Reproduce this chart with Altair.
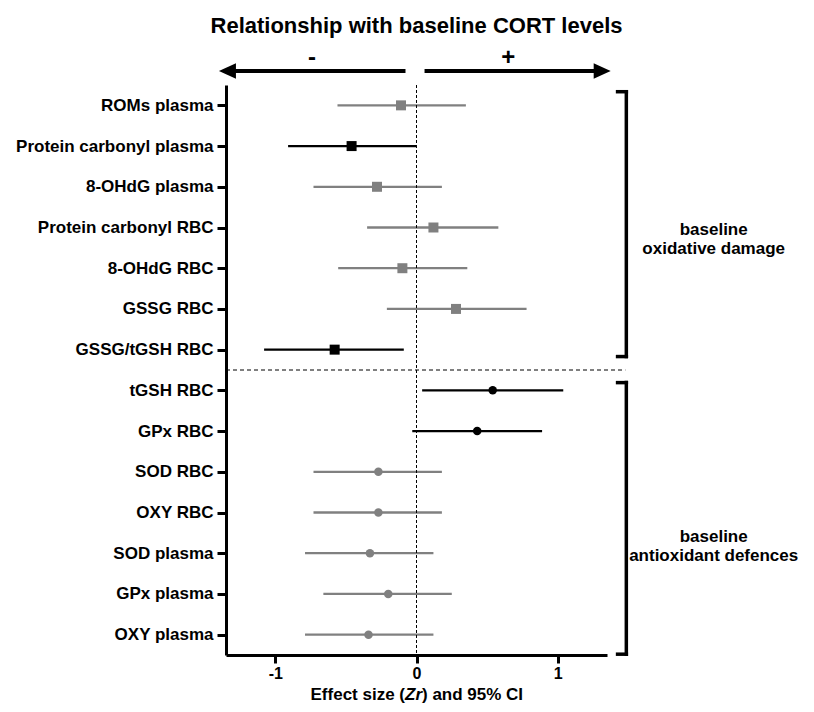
import altair as alt
import pandas as pd

# ---- data ----
names = [
    "ROMs plasma", "Protein carbonyl plasma", "8-OHdG plasma", "Protein carbonyl RBC",
    "8-OHdG RBC", "GSSG RBC", "GSSG/tGSH RBC",
    "tGSH RBC", "GPx RBC", "SOD RBC", "OXY RBC", "SOD plasma", "GPx plasma", "OXY plasma",
]
estimate = [-0.11, -0.46, -0.28, 0.12, -0.10, 0.28, -0.58, 0.54, 0.43, -0.27, -0.27, -0.33, -0.20, -0.34]
ci_low = [-0.56, -0.91, -0.73, -0.35, -0.555, -0.21, -1.08, 0.04, -0.03, -0.73, -0.73, -0.79, -0.66, -0.79]
ci_high = [0.35, 0.00, 0.18, 0.58, 0.36, 0.78, -0.09, 1.04, 0.89, 0.18, 0.18, 0.12, 0.25, 0.12]
significant = [False, True, False, False, False, False, True, True, True, False, False, False, False, False]
group = ["damage"] * 7 + ["defence"] * 7

x_ticks = [-1, 0, 1]
x_domain = [-1.35, 1.35]

group_labels = ["baseline\noxidative damage", "baseline\nantioxidant defences"]
group_label_y = [4.06, 11.60]
group_label_x = [2.106, 2.106]
bracket_top = [0.665, 7.81]
bracket_bottom = [7.17, 14.48]
bracket_x = 1.487
bracket_serif_x = 1.425
separator_y = 7.5
separator_end_x = 1.48

arrow_line_start = [-1.33, 0.057]
arrow_line_end = [-0.078, 1.31]
arrow_tip = [-1.40, 1.376]
sign_text = ["-", "+"]
sign_x = [-0.74, 0.65]

FONT = "Liberation Sans"

rows = list(range(1, len(names) + 1))
df = pd.DataFrame({
    "row": rows, "name": names, "est": estimate, "lo": ci_low, "hi": ci_high,
    "sig": ["sig" if s else "ns" for s in significant], "group": group,
})

x_scale = alt.Scale(domain=x_domain, nice=False, zero=False)
y_scale = alt.Scale(domain=[0.5, len(names) + 0.5], reverse=True, nice=False, zero=False)

label_expr = "[" + ",".join("'" + n + "'" for n in names) + "][datum.value - 1]"

x_axis = alt.Axis(
    values=x_ticks, labelExpr="'' + datum.value", title=None, grid=False,
    domainWidth=3, domainColor="black", tickWidth=3, tickSize=8, tickColor="black",
    labelFontSize=16, labelFont=FONT, labelFontWeight="bold", labelColor="black", labelPadding=2,
)
y_axis = alt.Axis(
    values=rows, labelExpr=label_expr, title=None, grid=False,
    domainWidth=3, domainColor="black", tickWidth=3, tickSize=9, tickColor="black",
    labelFontSize=17, labelFont=FONT, labelFontWeight="bold", labelColor="black", labelPadding=4,
    labelLimit=400,
)

color = alt.Color("sig:N", scale=alt.Scale(domain=["sig", "ns"], range=["#000000", "#808080"]), legend=None)

base = alt.Chart(df)

ci_rules = base.mark_rule(strokeWidth=2.3).encode(
    x=alt.X("lo:Q", scale=x_scale, axis=x_axis),
    x2="hi:Q",
    y=alt.Y("row:Q", scale=y_scale, axis=y_axis),
    color=color,
)

points = base.mark_point(filled=True, opacity=1, strokeWidth=0).encode(
    x=alt.X("est:Q", scale=x_scale),
    y=alt.Y("row:Q", scale=y_scale),
    color=color,
    shape=alt.Shape("group:N", scale=alt.Scale(domain=["damage", "defence"], range=["square", "circle"]), legend=None),
    size=alt.Size("group:N", scale=alt.Scale(domain=["damage", "defence"], range=[100, 72]), legend=None),
)

zero_line = alt.Chart(pd.DataFrame({"x": [0]})).mark_rule(
    strokeDash=[3, 2], strokeWidth=1, color="black"
).encode(x=alt.X("x:Q", scale=x_scale), y=alt.value(0), y2=alt.value(570))

separator = alt.Chart(pd.DataFrame({"y": [separator_y], "x": [x_domain[0]], "x2": [separator_end_x]})).mark_rule(
    strokeDash=[4, 3], strokeWidth=1, color="black"
).encode(x=alt.X("x:Q", scale=x_scale), x2="x2:Q", y=alt.Y("y:Q", scale=y_scale))

br = pd.DataFrame({"top": bracket_top, "bottom": bracket_bottom,
                   "x": [bracket_x] * 2, "xs": [bracket_serif_x] * 2})
bracket_v = alt.Chart(br).mark_rule(strokeWidth=3.5, color="black", strokeCap="square").encode(
    x=alt.X("x:Q", scale=x_scale), y=alt.Y("top:Q", scale=y_scale), y2="bottom:Q")
bracket_t = alt.Chart(br).mark_rule(strokeWidth=3.5, color="black", strokeCap="square").encode(
    x=alt.X("xs:Q", scale=x_scale), x2="x:Q", y=alt.Y("top:Q", scale=y_scale))
bracket_b = alt.Chart(br).mark_rule(strokeWidth=3.5, color="black", strokeCap="square").encode(
    x=alt.X("xs:Q", scale=x_scale), x2="x:Q", y=alt.Y("bottom:Q", scale=y_scale))

group_text = alt.Chart(pd.DataFrame({"t": group_labels, "x": group_label_x, "y": group_label_y})).mark_text(
    font=FONT, fontSize=17, fontWeight="bold", color="black", align="center", baseline="middle",
    lineBreak="\n", lineHeight=19,
).encode(x=alt.X("x:Q", scale=x_scale), y=alt.Y("y:Q", scale=y_scale), text="t:N")

arrows = pd.DataFrame({"a": arrow_line_start, "b": arrow_line_end})
arrow_lines = alt.Chart(arrows).mark_rule(strokeWidth=4, color="black").encode(
    x=alt.X("a:Q", scale=x_scale), x2="b:Q", y=alt.value(-14))
head_left = alt.Chart(pd.DataFrame({"x": [arrow_tip[0]]})).mark_point(
    shape="M0,0L2,-0.9L2,0.9Z", filled=True, opacity=1, size=289, color="black", strokeWidth=0
).encode(x=alt.X("x:Q", scale=x_scale), y=alt.value(-14))
head_right = alt.Chart(pd.DataFrame({"x": [arrow_tip[1]]})).mark_point(
    shape="M0,0L-2,-0.9L-2,0.9Z", filled=True, opacity=1, size=289, color="black", strokeWidth=0
).encode(x=alt.X("x:Q", scale=x_scale), y=alt.value(-14))
signs = alt.Chart(pd.DataFrame({"t": sign_text, "x": sign_x})).mark_text(
    font=FONT, fontSize=24, fontWeight="bold", color="black", align="center", baseline="middle"
).encode(x=alt.X("x:Q", scale=x_scale), y=alt.value(-27), text="t:N")

# x-axis title with italic "Zr"
xt_y = 610
xtitle_a = alt.Chart(pd.DataFrame({"t": ["Effect size ("]})).mark_text(
    font=FONT, fontSize=17, fontWeight="bold", color="black", align="right", baseline="middle"
).encode(x=alt.value(179), y=alt.value(xt_y), text="t:N")
xtitle_b = alt.Chart(pd.DataFrame({"t": ["Zr"]})).mark_text(
    font=FONT, fontSize=17, fontWeight="bold", fontStyle="italic", color="black", align="left", baseline="middle"
).encode(x=alt.value(179), y=alt.value(xt_y), text="t:N")
xtitle_c = alt.Chart(pd.DataFrame({"t": [") and 95% CI"]})).mark_text(
    font=FONT, fontSize=17, fontWeight="bold", color="black", align="left", baseline="middle"
).encode(x=alt.value(196), y=alt.value(xt_y), text="t:N")

chart = alt.layer(
    ci_rules, zero_line, separator, points,
    bracket_v, bracket_t, bracket_b, group_text,
    arrow_lines, head_left, head_right, signs,
    xtitle_a, xtitle_b, xtitle_c,
).properties(
    width=381, height=570,
    title=alt.TitleParams("Relationship with baseline CORT levels", font=FONT, fontSize=22,
                          fontWeight="bold", color="black", anchor="middle", frame="group", offset=8),
    autosize=alt.AutoSizeParams(type="none"),
    padding={"left": 218, "top": 77, "right": 195, "bottom": 49},
    background="white",
).configure_view(stroke=None)

chart.save("out.html", embed_options={"renderer": "svg", "actions": False})
